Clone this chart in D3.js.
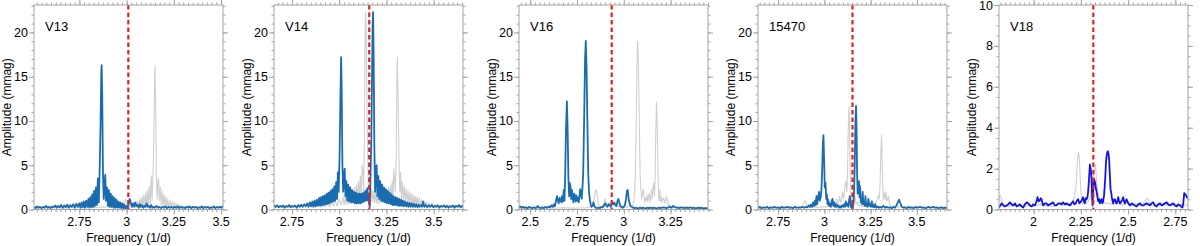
<!DOCTYPE html>
<html><head><meta charset="utf-8">
<script src="https://cdn.jsdelivr.net/npm/d3@7"></script>
<style>
html,body{margin:0;padding:0;background:#fff;}
svg{display:block;font-family:"Liberation Sans",Arial,Helvetica,sans-serif;}
</style></head>
<body><svg id="c" width="1200" height="246"></svg>
<script>
// ---------- DATA (frequency 1/d, amplitude mmag) ----------
const panelNames = ["V13","V14","V16","15470","V18"];
const refFreqs = [3.009, 3.159, 2.9355, 3.152, 2.316];
const xTickVals = [[2.75,3,3.25,3.5],[2.75,3,3.25,3.5],[2.5,2.75,3,3.25],[2.75,3,3.25,3.5],[2,2.25,2.5,2.75]];
const yTickVals = [[0,5,10,15,20],[0,5,10,15,20],[0,5,10,15,20],[0,5,10,15,20],[0,2,4,6,8,10]];

const v13Blue = [[2.510,0.3],[2.518,0.15],[2.526,0.35],[2.534,0.2],[2.542,0.3],[2.550,0.15],[2.558,0.3],[2.566,0.2],[2.574,0.4],[2.582,0.2],[2.590,0.3],[2.598,0.15],[2.606,0.35],[2.614,0.25],[2.622,0.45],[2.630,0.2],[2.638,0.4],[2.646,0.25],[2.654,0.5],[2.662,0.2],[2.670,0.45],[2.678,0.25],[2.686,0.55],[2.694,0.2],[2.702,0.5],[2.710,0.3],[2.718,0.6],[2.726,0.2],[2.734,0.65],[2.742,0.3],[2.750,0.7],[2.756,0.2],[2.762,0.8],[2.768,0.25],[2.774,0.9],[2.780,0.2],[2.786,1.0],[2.792,0.3],[2.798,1.2],[2.803,0.2],[2.808,1.4],[2.813,0.3],[2.818,1.7],[2.823,0.3],[2.828,2.1],[2.833,0.4],[2.838,2.5],[2.843,0.5],[2.848,3.5],[2.853,0.8],[2.858,5.0],[2.862,9.5],[2.866,15.5],[2.868,16.3],[2.871,13],[2.875,4],[2.879,1.2],[2.883,3.0],[2.887,3.9],[2.891,1.0],[2.896,2.5],[2.901,0.4],[2.906,2.2],[2.911,0.3],[2.916,1.8],[2.921,0.3],[2.926,1.5],[2.931,0.2],[2.936,1.3],[2.941,0.2],[2.946,1.1],[2.951,0.2],[2.956,0.9],[2.961,0.2],[2.966,0.8],[2.971,0.15],[2.976,0.7],[2.981,0.15],[2.986,0.6],[2.992,0.1],[2.998,0.4],[3.004,0.1],[3.010,0.6],[3.016,1.2],[3.022,0.8],[3.028,0.3],[3.034,0.7],[3.040,0.3],[3.046,0.8],[3.052,0.4],[3.058,0.5],[3.064,0.2],[3.070,0.6],[3.076,0.3],[3.082,0.5],[3.088,0.2],[3.094,0.4],[3.100,0.3],[3.106,0.7],[3.112,0.3],[3.118,0.4],[3.124,0.2],[3.130,0.5],[3.136,0.2],[3.142,0.3],[3.150,0.2],[3.158,0.4],[3.166,0.2],[3.174,0.3],[3.182,0.15],[3.190,0.3],[3.198,0.2],[3.206,0.35],[3.214,0.15],[3.222,0.3],[3.230,0.2],[3.238,0.3],[3.246,0.15],[3.254,0.3],[3.262,0.2],[3.270,0.35],[3.278,0.15],[3.286,0.3],[3.294,0.2],[3.302,0.25],[3.310,0.15],[3.318,0.3],[3.326,0.2],[3.334,0.35],[3.342,0.15],[3.350,0.3],[3.358,0.2],[3.366,0.3],[3.374,0.15],[3.382,0.25],[3.390,0.2],[3.398,0.35],[3.406,0.15],[3.414,0.3],[3.422,0.2],[3.430,0.3],[3.438,0.15],[3.446,0.25],[3.454,0.2],[3.462,0.35],[3.470,0.15],[3.478,0.3],[3.486,0.2],[3.494,0.3],[3.502,0.2],[3.510,0.4]];
const v13Gray = [[2.51,0.2],[2.60,0.2],[2.70,0.2],[2.80,0.2],[2.90,0.3],[2.95,0.4],[2.97,0.6],[2.985,0.9],[2.995,1.1],[3.000,0.3],[3.005,0.6],[3.012,0.1],[3.020,0.7],[3.030,0.2],[3.040,0.8],[3.045,0.2],[3.050,0.9],[3.055,0.2],[3.060,1.0],[3.065,0.2],[3.070,1.2],[3.075,0.2],[3.080,1.4],[3.085,0.2],[3.090,1.6],[3.095,0.3],[3.100,1.9],[3.105,0.3],[3.110,2.2],[3.115,0.4],[3.120,2.6],[3.125,0.5],[3.130,3.8],[3.135,1.0],[3.141,5.0],[3.145,10],[3.149,15.5],[3.150,16.2],[3.153,13],[3.157,4],[3.161,1.2],[3.165,3.0],[3.169,3.5],[3.173,1.0],[3.178,2.5],[3.183,0.4],[3.188,2.1],[3.193,0.3],[3.198,1.7],[3.203,0.3],[3.208,1.4],[3.213,0.2],[3.218,1.2],[3.223,0.2],[3.230,1.0],[3.236,0.2],[3.242,0.9],[3.248,0.2],[3.254,0.8],[3.260,0.15],[3.266,0.7],[3.272,0.15],[3.278,0.6],[3.284,0.2],[3.290,0.5],[3.300,0.2],[3.320,0.4],[3.340,0.2],[3.360,0.3],[3.400,0.2],[3.450,0.25],[3.510,0.2]];

const v14Blue = [[2.655,0.5],[2.663,0.3],[2.671,0.45],[2.679,0.25],[2.687,0.4],[2.695,0.3],[2.703,0.45],[2.711,0.2],[2.719,0.4],[2.727,0.3],[2.735,0.5],[2.743,0.25],[2.751,0.4],[2.759,0.3],[2.767,0.45],[2.775,0.2],[2.783,0.5],[2.791,0.3],[2.799,0.55],[2.807,0.3],[2.815,0.6],[2.823,0.35],[2.831,0.7],[2.838,0.3],[2.845,0.8],[2.852,0.35],[2.858,0.9],[2.864,0.3],[2.870,1.0],[2.876,0.35],[2.882,1.1],[2.888,0.4],[2.894,1.3],[2.899,0.4],[2.904,1.4],[2.909,0.5],[2.914,1.5],[2.919,0.5],[2.924,1.6],[2.929,0.6],[2.934,1.8],[2.939,0.6],[2.944,1.9],[2.949,0.7],[2.954,2.1],[2.959,0.8],[2.964,2.3],[2.969,0.9],[2.974,2.6],[2.979,1.0],[2.984,3.1],[2.989,1.2],[2.993,4.2],[2.997,2.0],[3.002,6],[3.006,12],[3.010,17.2],[3.013,14],[3.017,5],[3.021,2.0],[3.025,3.5],[3.029,4.6],[3.033,1.5],[3.038,3.2],[3.043,1.0],[3.048,2.8],[3.053,0.9],[3.058,2.5],[3.063,0.8],[3.068,2.2],[3.073,0.8],[3.078,2.0],[3.083,0.7],[3.088,1.9],[3.093,0.7],[3.098,1.8],[3.103,0.7],[3.108,1.8],[3.113,0.7],[3.118,1.8],[3.123,0.8],[3.128,1.9],[3.133,0.9],[3.138,2.1],[3.143,1.0],[3.148,2.4],[3.153,1.0],[3.158,1.6],[3.162,0.3],[3.166,4],[3.170,8],[3.174,16],[3.177,21],[3.179,22.3],[3.182,18],[3.186,7],[3.190,2],[3.194,4.5],[3.198,5.0],[3.202,1.5],[3.207,3.8],[3.212,1.2],[3.217,3.2],[3.222,1.0],[3.227,2.8],[3.232,0.9],[3.237,2.5],[3.242,0.8],[3.247,2.3],[3.252,0.7],[3.257,2.1],[3.262,0.7],[3.267,1.9],[3.272,0.6],[3.277,1.7],[3.282,0.5],[3.287,1.5],[3.292,0.5],[3.297,1.4],[3.302,0.5],[3.307,1.3],[3.312,0.4],[3.317,1.2],[3.322,0.4],[3.327,1.1],[3.332,0.4],[3.337,1.0],[3.342,0.35],[3.348,0.9],[3.354,0.35],[3.360,0.8],[3.366,0.3],[3.372,0.75],[3.378,0.3],[3.384,0.7],[3.390,0.3],[3.396,0.65],[3.402,0.3],[3.408,0.6],[3.414,0.25],[3.420,0.55],[3.426,0.3],[3.432,0.5],[3.438,0.3],[3.444,0.9],[3.450,0.3],[3.458,0.5],[3.466,0.25],[3.474,0.45],[3.482,0.3],[3.490,0.5],[3.498,0.25],[3.506,0.4],[3.514,0.3],[3.522,0.45],[3.530,0.2],[3.538,0.4],[3.546,0.3],[3.554,0.45],[3.562,0.25],[3.570,0.4],[3.578,0.2],[3.586,0.35],[3.594,0.3],[3.602,0.45],[3.610,0.2],[3.618,0.4],[3.626,0.3],[3.634,0.5],[3.642,0.25],[3.650,0.4],[3.655,0.3]];
const v14Gray = [[2.655,0.3],[2.70,0.3],[2.75,0.35],[2.80,0.4],[2.84,0.5],[2.874,0.9],[2.88,0.4],[2.90,0.6],[2.91,0.3],[2.92,0.7],[2.93,0.3],[2.94,0.75],[2.95,0.35],[2.96,0.9],[2.97,0.4],[2.98,1.0],[2.99,0.4],[3.00,1.2],[3.01,0.5],[3.02,1.4],[3.026,0.5],[3.032,1.5],[3.037,0.6],[3.042,1.7],[3.047,0.6],[3.052,1.9],[3.057,0.7],[3.062,2.1],[3.067,0.7],[3.072,2.3],[3.077,0.8],[3.082,2.5],[3.087,0.9],[3.092,2.8],[3.097,1.0],[3.102,3.2],[3.107,1.2],[3.112,3.8],[3.117,1.5],[3.121,5.0],[3.125,4.5],[3.129,2],[3.133,7],[3.136,18],[3.139,22.3],[3.142,21],[3.145,16],[3.149,8],[3.153,4],[3.157,0.3],[3.161,1.6],[3.166,1.0],[3.171,2.4],[3.176,0.9],[3.181,2.1],[3.186,0.8],[3.191,1.9],[3.196,0.7],[3.201,1.8],[3.206,0.7],[3.211,1.8],[3.216,0.7],[3.221,1.8],[3.226,0.8],[3.231,1.9],[3.236,0.8],[3.241,2.0],[3.246,0.8],[3.251,2.2],[3.256,0.9],[3.261,2.5],[3.266,0.9],[3.271,2.8],[3.276,1.0],[3.281,3.2],[3.285,1.5],[3.289,4.6],[3.293,3.5],[3.297,2.0],[3.301,5],[3.305,14],[3.308,17.2],[3.312,12],[3.316,6],[3.321,2.0],[3.325,4.2],[3.329,1.2],[3.334,3.1],[3.339,1.0],[3.344,2.6],[3.349,0.9],[3.354,2.3],[3.359,0.8],[3.364,2.1],[3.369,0.7],[3.374,1.9],[3.379,0.6],[3.384,1.8],[3.389,0.6],[3.394,1.6],[3.399,0.5],[3.404,1.5],[3.409,0.5],[3.414,1.4],[3.419,0.4],[3.424,1.3],[3.430,0.4],[3.436,1.1],[3.442,0.35],[3.448,1.0],[3.454,0.35],[3.460,0.9],[3.466,0.3],[3.472,0.8],[3.480,0.35],[3.490,0.7],[3.500,0.3],[3.520,0.6],[3.540,0.3],[3.560,0.5],[3.600,0.4],[3.655,0.4]];

const v16Blue = [[2.44,0.25],[2.447,0.35],[2.455,0.2],[2.463,0.3],[2.47,0.2],[2.478,0.25],[2.486,0.15],[2.494,0.3],[2.502,0.2],[2.51,0.15],[2.52,0.25],[2.53,0.15],[2.54,0.4],[2.548,0.2],[2.556,0.15],[2.565,0.25],[2.573,0.15],[2.58,0.3],[2.59,0.2],[2.6,0.35],[2.607,0.25],[2.615,0.5],[2.622,0.3],[2.628,0.6],[2.633,0.4],[2.638,1.0],[2.643,1.5],[2.648,1.0],[2.652,0.7],[2.657,1.3],[2.662,1.2],[2.666,0.8],[2.67,1.5],[2.675,0.9],[2.679,2.2],[2.683,1.0],[2.687,4],[2.691,9],[2.696,12.2],[2.700,9],[2.704,3.5],[2.708,1.5],[2.711,3.0],[2.715,2.6],[2.719,1.2],[2.723,2.2],[2.727,1.3],[2.731,0.8],[2.735,1.8],[2.739,1.5],[2.743,0.9],[2.747,1.6],[2.751,1.0],[2.755,1.3],[2.759,0.8],[2.763,1.5],[2.767,2.3],[2.771,1.8],[2.775,1.2],[2.779,2.4],[2.783,4],[2.788,10],[2.793,17],[2.797,19.05],[2.801,16],[2.806,9],[2.81,4],[2.814,2.0],[2.818,1.2],[2.823,0.6],[2.828,0.3],[2.833,0.4],[2.838,0.8],[2.843,0.4],[2.85,0.2],[2.857,0.15],[2.865,0.2],[2.873,0.15],[2.88,0.3],[2.888,0.25],[2.895,0.5],[2.901,0.7],[2.907,0.4],[2.913,0.3],[2.919,0.6],[2.925,0.5],[2.931,0.3],[2.937,0.8],[2.943,0.6],[2.949,0.8],[2.955,0.5],[2.961,0.4],[2.967,1.0],[2.971,1.2],[2.976,0.8],[2.982,0.4],[2.988,0.3],[2.994,0.2],[3.0,0.3],[3.006,0.5],[3.012,1.2],[3.017,2.1],[3.021,2.2],[3.026,1.2],[3.031,0.7],[3.036,0.4],[3.042,0.3],[3.05,0.2],[3.058,0.15],[3.066,0.2],[3.075,0.1],[3.085,0.2],[3.095,0.15],[3.105,0.2],[3.115,0.1],[3.125,0.2],[3.135,0.15],[3.145,0.2],[3.155,0.15],[3.165,0.2],[3.175,0.1],[3.185,0.2],[3.195,0.15],[3.205,0.2],[3.215,0.25],[3.225,0.15],[3.235,0.2],[3.245,0.3],[3.255,0.2],[3.265,0.4],[3.275,0.25],[3.285,0.2],[3.295,0.15],[3.305,0.25],[3.315,0.2],[3.325,0.15],[3.335,0.2],[3.345,0.15],[3.355,0.25],[3.365,0.15],[3.375,0.2],[3.385,0.1],[3.395,0.2],[3.405,0.15],[3.415,0.2],[3.425,0.1],[3.435,0.15],[3.45,0.1]];
const v16Gray = [[2.44,0.15],[2.5,0.15],[2.56,0.2],[2.62,0.15],[2.68,0.2],[2.74,0.15],[2.8,0.2],[2.82,0.3],[2.835,0.6],[2.843,1.4],[2.849,2.1],[2.854,2.2],[2.859,1.3],[2.865,0.5],[2.872,0.3],[2.88,0.2],[2.888,0.3],[2.895,0.9],[2.9,1.2],[2.905,0.8],[2.913,0.4],[2.92,0.5],[2.928,0.8],[2.934,0.6],[2.94,0.8],[2.946,0.5],[2.952,0.3],[2.958,0.5],[2.964,0.6],[2.97,0.4],[2.978,0.3],[2.986,0.2],[2.994,0.3],[3.002,0.2],[3.01,0.3],[3.02,0.2],[3.028,0.4],[3.033,0.8],[3.038,0.4],[3.045,0.3],[3.05,0.6],[3.054,1.2],[3.058,2.0],[3.062,4],[3.066,9],[3.070,16],[3.074,19.0],[3.078,17],[3.083,10],[3.087,4],[3.091,2.4],[3.095,1.2],[3.1,1.8],[3.104,2.3],[3.108,1.5],[3.112,0.8],[3.116,1.3],[3.12,1.0],[3.124,1.6],[3.128,0.9],[3.132,1.5],[3.136,1.8],[3.14,0.8],[3.144,1.3],[3.148,2.2],[3.152,1.2],[3.156,2.6],[3.16,3.0],[3.164,1.5],[3.167,3.5],[3.171,9],[3.175,12.1],[3.179,9],[3.183,4],[3.187,1.0],[3.192,2.2],[3.196,0.9],[3.2,1.5],[3.205,0.8],[3.209,1.2],[3.214,1.3],[3.219,0.7],[3.224,1.0],[3.228,1.5],[3.233,1.0],[3.238,0.4],[3.243,0.6],[3.25,0.3],[3.26,0.4],[3.27,0.2],[3.29,0.3],[3.31,0.2],[3.33,0.3],[3.36,0.2],[3.4,0.25],[3.45,0.2]];

const s15470Blue = [[2.641,0.2],[2.650,0.3],[2.660,0.15],[2.670,0.25],[2.680,0.2],[2.690,0.3],[2.700,0.15],[2.710,0.25],[2.720,0.2],[2.730,0.3],[2.740,0.2],[2.750,0.25],[2.760,0.15],[2.770,0.3],[2.780,0.2],[2.790,0.25],[2.800,0.3],[2.810,0.2],[2.820,0.25],[2.830,0.15],[2.840,0.3],[2.850,0.2],[2.860,0.25],[2.870,0.2],[2.880,0.3],[2.890,0.2],[2.900,0.3],[2.908,0.25],[2.915,0.45],[2.921,0.3],[2.927,0.55],[2.933,0.3],[2.939,0.8],[2.944,0.4],[2.949,1.0],[2.953,0.5],[2.957,1.5],[2.961,0.6],[2.966,1.3],[2.971,2.0],[2.975,1.0],[2.980,1.4],[2.984,2.2],[2.988,4.5],[2.992,7.5],[2.995,8.4],[2.998,6],[3.002,2.5],[3.006,3.0],[3.010,1.2],[3.013,1.7],[3.017,0.6],[3.021,1.1],[3.025,0.4],[3.030,0.7],[3.035,0.3],[3.040,1.0],[3.044,1.2],[3.048,0.4],[3.053,0.8],[3.057,0.3],[3.062,0.6],[3.066,0.3],[3.072,0.5],[3.078,0.2],[3.084,0.4],[3.090,0.2],[3.096,0.5],[3.102,0.3],[3.107,0.6],[3.111,0.3],[3.116,0.9],[3.120,0.4],[3.125,0.7],[3.130,0.3],[3.134,1.1],[3.138,1.5],[3.142,0.6],[3.145,0.2],[3.149,0.5],[3.153,0.2],[3.157,0.8],[3.160,1.8],[3.164,5],[3.168,10],[3.171,11.7],[3.174,9],[3.177,4],[3.180,1.8],[3.184,2.6],[3.187,3.2],[3.190,1.4],[3.193,2.6],[3.197,0.8],[3.200,1.2],[3.204,0.6],[3.207,2.0],[3.211,0.6],[3.214,0.9],[3.218,0.4],[3.222,1.5],[3.226,0.4],[3.229,0.7],[3.233,0.3],[3.238,1.2],[3.243,0.4],[3.247,0.6],[3.251,0.3],[3.256,0.9],[3.261,0.3],[3.265,0.5],[3.270,0.25],[3.274,0.6],[3.280,0.2],[3.286,0.35],[3.294,0.2],[3.301,0.3],[3.310,0.2],[3.319,0.4],[3.328,0.2],[3.337,0.3],[3.346,0.2],[3.355,0.25],[3.364,0.15],[3.373,0.3],[3.381,0.2],[3.388,0.4],[3.393,0.6],[3.397,0.8],[3.404,1.1],[3.411,0.7],[3.416,0.4],[3.420,0.3],[3.428,0.2],[3.437,0.25],[3.446,0.15],[3.455,0.3],[3.464,0.2],[3.473,0.25],[3.482,0.15],[3.491,0.3],[3.500,0.2],[3.509,0.25],[3.518,0.3],[3.527,0.2],[3.536,0.25],[3.545,0.15],[3.554,0.2],[3.563,0.3],[3.572,0.2],[3.581,0.25],[3.590,0.3],[3.599,0.2],[3.608,0.25],[3.617,0.15],[3.626,0.2],[3.635,0.25],[3.644,0.15],[3.653,0.2],[3.663,0.15]];
const s15470Gray = [[2.641,0.15],[2.70,0.2],[2.76,0.15],[2.82,0.2],[2.86,0.2],[2.88,0.35],[2.89,0.8],[2.897,1.0],[2.904,0.6],[2.912,0.3],[2.93,0.25],[2.95,0.3],[2.97,0.25],[2.99,0.3],[3.01,0.3],[3.03,0.4],[3.04,0.3],[3.048,0.9],[3.055,0.4],[3.06,0.6],[3.066,1.2],[3.072,0.5],[3.077,0.8],[3.082,1.5],[3.087,0.8],[3.092,1.0],[3.097,2.0],[3.104,1.2],[3.111,2.6],[3.117,3.2],[3.122,2.0],[3.126,5],[3.129,9],[3.133,11.7],[3.136,9],[3.14,4],[3.144,1.8],[3.148,0.4],[3.152,0.5],[3.158,0.2],[3.166,1.5],[3.172,0.6],[3.18,0.8],[3.188,0.4],[3.196,0.5],[3.204,0.3],[3.215,0.4],[3.225,0.3],[3.238,0.6],[3.25,0.3],[3.261,1.0],[3.267,0.6],[3.275,0.6],[3.283,1.0],[3.292,1.6],[3.297,1.2],[3.301,3.0],[3.305,6],[3.309,8.4],[3.313,5],[3.318,1.2],[3.323,1.9],[3.328,1.1],[3.333,2.0],[3.338,1.0],[3.343,1.2],[3.347,1.5],[3.352,0.6],[3.36,0.4],[3.37,0.3],[3.39,0.3],[3.42,0.25],[3.46,0.2],[3.5,0.25],[3.56,0.2],[3.6,0.2],[3.663,0.2]];

const v18Blue = [[1.817,0.1],[1.824,0.2],[1.831,0.3],[1.840,0.2],[1.848,0.15],[1.857,0.2],[1.866,0.25],[1.875,0.35],[1.884,0.25],[1.893,0.2],[1.902,0.3],[1.910,0.15],[1.919,0.2],[1.928,0.25],[1.937,0.15],[1.945,0.1],[1.954,0.25],[1.963,0.35],[1.972,0.3],[1.981,0.2],[1.990,0.15],[1.998,0.25],[2.007,0.2],[2.014,0.35],[2.021,0.6],[2.027,0.4],[2.033,0.45],[2.038,0.55],[2.042,0.5],[2.047,0.3],[2.051,0.2],[2.060,0.3],[2.068,0.3],[2.077,0.2],[2.086,0.25],[2.095,0.3],[2.104,0.35],[2.112,0.2],[2.121,0.2],[2.130,0.3],[2.139,0.3],[2.148,0.25],[2.156,0.35],[2.165,0.25],[2.174,0.3],[2.183,0.25],[2.192,0.2],[2.200,0.3],[2.209,0.4],[2.216,0.25],[2.223,0.3],[2.230,0.45],[2.236,0.5],[2.242,0.3],[2.248,0.35],[2.255,0.45],[2.262,0.6],[2.267,0.4],[2.271,0.3],[2.276,0.55],[2.280,0.5],[2.285,0.6],[2.289,0.9],[2.294,1.6],[2.298,2.2],[2.302,2.0],[2.306,1.6],[2.309,0.8],[2.312,0.2],[2.315,0.9],[2.319,1.5],[2.323,1.4],[2.326,1.3],[2.330,1.0],[2.333,0.9],[2.338,0.6],[2.342,0.4],[2.347,0.5],[2.351,0.3],[2.356,0.45],[2.360,0.5],[2.364,0.3],[2.368,0.4],[2.373,0.7],[2.379,1.5],[2.383,2.3],[2.386,2.6],[2.390,2.8],[2.393,2.85],[2.397,2.7],[2.400,2.4],[2.404,1.6],[2.407,1.0],[2.411,0.8],[2.414,0.6],[2.418,0.4],[2.421,0.3],[2.426,0.5],[2.430,0.5],[2.435,0.35],[2.439,0.3],[2.444,0.45],[2.448,0.6],[2.452,0.4],[2.457,0.3],[2.461,0.35],[2.465,0.4],[2.470,0.5],[2.474,0.6],[2.479,0.4],[2.483,0.3],[2.488,0.4],[2.492,0.5],[2.501,0.3],[2.510,0.2],[2.519,0.3],[2.527,0.25],[2.536,0.2],[2.545,0.15],[2.554,0.25],[2.563,0.3],[2.572,0.2],[2.580,0.2],[2.589,0.25],[2.598,0.3],[2.607,0.25],[2.616,0.2],[2.625,0.3],[2.633,0.35],[2.642,0.2],[2.651,0.15],[2.660,0.25],[2.669,0.3],[2.678,0.2],[2.686,0.25],[2.695,0.3],[2.704,0.35],[2.713,0.25],[2.721,0.2],[2.730,0.25],[2.739,0.3],[2.748,0.2],[2.757,0.15],[2.766,0.25],[2.774,0.2],[2.781,0.15],[2.788,0.1],[2.792,0.3],[2.797,0.8],[2.802,0.75],[2.806,0.7],[2.811,0.6],[2.817,0.55]];
const v18Gray = [[1.817,0.5],[1.822,0.7],[1.828,0.6],[1.834,0.3],[1.85,0.2],[1.87,0.15],[1.9,0.2],[1.93,0.15],[1.96,0.2],[2.0,0.15],[2.03,0.25],[2.06,0.2],[2.1,0.15],[2.14,0.3],[2.16,0.2],[2.18,0.25],[2.2,0.2],[2.215,0.6],[2.225,1.2],[2.232,2.4],[2.237,2.8],[2.242,2.5],[2.248,1.3],[2.254,0.4],[2.26,0.3],[2.27,0.5],[2.28,0.3],[2.29,0.4],[2.3,0.6],[2.306,1.0],[2.313,1.3],[2.318,1.6],[2.324,2.0],[2.328,2.2],[2.333,1.4],[2.34,0.9],[2.35,0.5],[2.36,0.4],[2.37,0.4],[2.38,0.3],[2.4,0.3],[2.42,0.25],[2.45,0.3],[2.48,0.2],[2.5,0.35],[2.52,0.2],[2.54,0.3],[2.56,0.2],[2.58,0.3],[2.595,0.5],[2.605,0.55],[2.615,0.3],[2.63,0.2],[2.66,0.25],[2.7,0.2],[2.75,0.25],[2.817,0.2]];

// ---------- LAYOUT / STYLE ----------
const panels = [
  {xDom:[2.51,3.51],  yMax:23.1, yMinor:1,   left:34,  blue:v13Blue,   gray:v13Gray,   col:"#1a6cb0"},
  {xDom:[2.655,3.655],yMax:23.1, yMinor:1,   left:274, blue:v14Blue,   gray:v14Gray,   col:"#1a6cb0"},
  {xDom:[2.44,3.45],  yMax:23.1, yMinor:1,   left:519, blue:v16Blue,   gray:v16Gray,   col:"#1a6cb0"},
  {xDom:[2.641,3.663],yMax:23.1, yMinor:1,   left:758, blue:s15470Blue,gray:s15470Gray,col:"#1a6cb0"},
  {xDom:[1.817,2.817],yMax:10,   yMinor:0.5, left:999, blue:v18Blue,   gray:v18Gray,   col:"#1414e6"}
];
const W = 189, TOP = 5, BOT = 209.5;
const frameCol = "#a3a3a3";
const svg = d3.select("#c");

panels.forEach((p, i) => {
  const x = d3.scaleLinear().domain(p.xDom).range([p.left, p.left + W]);
  const y = d3.scaleLinear().domain([0, p.yMax]).range([BOT, TOP]);
  const g = svg.append("g");

  g.append("clipPath").attr("id", "clip" + i)
    .append("rect").attr("x", p.left).attr("y", TOP).attr("width", W).attr("height", BOT - TOP);

  const line = d3.line().x(d => x(d[0])).y(d => y(d[1]));
  const plot = g.append("g").attr("clip-path", `url(#clip${i})`);
  plot.append("path").datum(p.gray).attr("d", line)
    .attr("fill", "none").attr("stroke", "#cfcfcf").attr("stroke-width", 1.1).attr("stroke-linejoin","round");
  plot.append("path").datum(p.blue).attr("d", line)
    .attr("fill", "none").attr("stroke", p.col).attr("stroke-width", 1.8).attr("stroke-linejoin","round");
  plot.append("line")
    .attr("x1", x(refFreqs[i])).attr("x2", x(refFreqs[i]))
    .attr("y1", TOP).attr("y2", BOT)
    .attr("stroke", "#e3211c").attr("stroke-width", 2.2).attr("stroke-dasharray", "4.5,3");

  // minor tick values
  const xMinor = d3.range(Math.ceil(p.xDom[0] / 0.025), Math.floor(p.xDom[1] / 0.025) + 1).map(k => k * 0.025);
  const yMinorVals = d3.range(0, p.yMax + 1e-9, p.yMinor);

  const axes = [
    {ax: d3.axisBottom(x), tr: `translate(0,${BOT})`},
    {ax: d3.axisTop(x),    tr: `translate(0,${TOP})`}
  ];
  axes.forEach(a => {
    const gm = g.append("g").attr("transform", a.tr)
      .call(a.ax.tickValues(xMinor).tickSize(2.5).tickFormat(""));
    gm.select(".domain").remove();
    const gM = g.append("g").attr("transform", a.tr)
      .call(a.ax.tickValues(xTickVals[i]).tickSize(5).tickFormat(""));
    gM.select(".domain").remove();
  });
  const yaxes = [
    {ax: d3.axisLeft(y),  tr: `translate(${p.left},0)`},
    {ax: d3.axisRight(y), tr: `translate(${p.left + W},0)`}
  ];
  yaxes.forEach(a => {
    const gm = g.append("g").attr("transform", a.tr)
      .call(a.ax.tickValues(yMinorVals).tickSize(2.5).tickFormat(""));
    gm.select(".domain").remove();
    const gM = g.append("g").attr("transform", a.tr)
      .call(a.ax.tickValues(yTickVals[i]).tickSize(5).tickFormat(""));
    gM.select(".domain").remove();
  });
  g.selectAll(".tick line").attr("stroke", frameCol);

  // frame
  g.append("rect").attr("x", p.left).attr("y", TOP).attr("width", W).attr("height", BOT - TOP)
    .attr("fill", "none").attr("stroke", frameCol).attr("stroke-width", 1);

  // tick labels
  g.selectAll(".xl").data(xTickVals[i]).enter().append("text")
    .attr("x", d => x(d)).attr("y", 226).attr("text-anchor", "middle")
    .attr("font-size", 12.5).attr("fill", "#000").text(d => String(d));
  g.selectAll(".yl").data(yTickVals[i]).enter().append("text")
    .attr("x", p.left - 6).attr("y", d => y(d) + 4.5).attr("text-anchor", "end")
    .attr("font-size", 12.5).attr("fill", "#000").text(d => String(d));

  // titles
  g.append("text").attr("x", p.left + W / 2).attr("y", 241.5).attr("text-anchor", "middle")
    .attr("font-size", 12).attr("fill", "#000").text("Frequency (1/d)");
  g.append("text").attr("transform", `translate(${p.left - 23},${(TOP + BOT) / 2}) rotate(-90)`)
    .attr("text-anchor", "middle").attr("font-size", 12).attr("fill", "#000").text("Amplitude (mmag)");
  g.append("text").attr("x", p.left + 11).attr("y", 31).attr("font-size", 13).attr("fill", "#000")
    .text(panelNames[i]);
});
</script>
</body></html>
